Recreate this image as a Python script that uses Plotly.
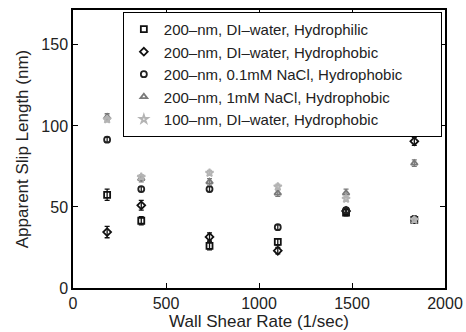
import plotly.graph_objects as go

shear_rate = [183.5, 367, 734, 1101, 1468, 1835]

hydrophilic_di = [57.5, 41.5, 26, 28.5, 46.5, 42]
hydrophilic_di_err = [3.5, 2.5, 2.5, 2.0, 2.0, 2.0]
hydrophobic_di = [34.5, 51, 31.5, 23, 47.5, 90.5]
hydrophobic_di_err = [3.5, 3.0, 2.5, 2.0, 2.0, 2.5]
nacl_01 = [91.5, 61, 61, 37.5, 48, 42.5]
nacl_01_err = [1.5, 1.5, 1.5, 1.5, 1.5, 2.0]
nacl_1 = [105.5, 67.5, 65.5, 58.5, 58.5, 77]
nacl_1_err = [2.0, 2.0, 2.0, 2.0, 2.5, 2.0]
nm100_di = [104, 68.5, 71, 62.5, 55, 42]
nm100_di_err = [1.5, 1.5, 1.5, 1.5, 1.5, 1.5]

pad = "\u00a0" * 8
series = [
    ("200\u2013nm, DI\u2013water, Hydrophilic", hydrophilic_di, hydrophilic_di_err, "square-open", "#111111"),
    ("200\u2013nm, DI\u2013water, Hydrophobic", hydrophobic_di, hydrophobic_di_err, "diamond-open", "#111111"),
    ("200\u2013nm, 0.1mM NaCl, Hydrophobic" + pad, nacl_01, nacl_01_err, "circle-open", "#222222"),
    ("200\u2013nm, 1mM NaCl, Hydrophobic", nacl_1, nacl_1_err, "triangle-up-open", "#7a7a7a"),
    ("100\u2013nm, DI\u2013water, Hydrophobic", nm100_di, nm100_di_err, "star-open", "#b4b4b4"),
]

fig = go.Figure()
for name, ys, errs, sym, col in series:
    fig.add_trace(go.Scatter(
        x=shear_rate, y=ys, mode="markers", name=name,
        marker=dict(symbol=sym, size=6, color=col, line=dict(color=col, width=1.8)),
        error_y=dict(type="data", array=errs, visible=True, color=col, thickness=1.3, width=2.5),
    ))

font_family = "Liberation Sans, Arial, sans-serif"
axis_common = dict(
    showline=True, linecolor="black", linewidth=1.5, mirror="allticks",
    ticks="inside", ticklen=5, tickwidth=1, tickcolor="black",
    showgrid=False, zeroline=False,
    tickfont=dict(family=font_family, size=16, color="#222222"),
)

fig.update_layout(
    width=466, height=332,
    margin=dict(l=73, r=21, t=10, b=44),
    paper_bgcolor="white", plot_bgcolor="white",
    font=dict(family=font_family, color="#222222"),
    xaxis=dict(range=[0, 2000], tickvals=[0, 500, 1000, 1500, 2000],
               title=dict(text="Wall Shear Rate (1/sec)", font=dict(size=17), standoff=2),
               automargin=False, **axis_common),
    yaxis=dict(range=[0, 171.5], tickvals=[0, 50, 100, 150],
               title=dict(text="Apparent Slip Length (nm)", font=dict(size=17), standoff=8),
               automargin=False, **axis_common),
    legend=dict(x=0.134, y=0.993, xanchor="left", yanchor="top",
                bgcolor="white", bordercolor="black", borderwidth=1,
                font=dict(size=15, family=font_family, color="#222222"),
                tracegroupgap=0),
    showlegend=True,
)

fig.write_html(
    "out.html",
    config={"displayModeBar": False},
    post_script="document.body.style.margin='0';document.body.style.padding='0';document.body.style.overflow='hidden';",
)
